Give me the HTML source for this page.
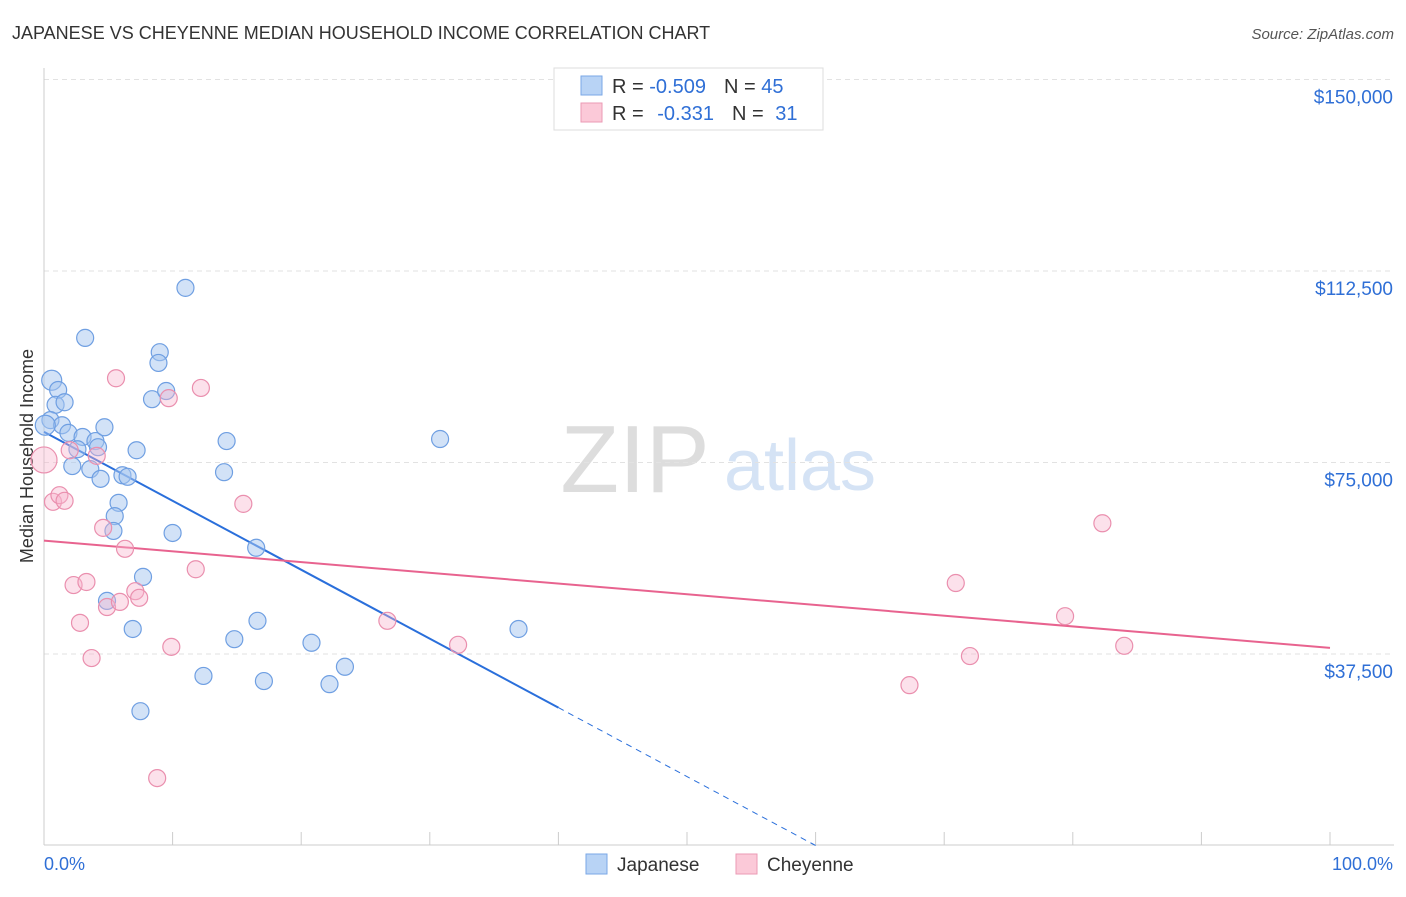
<!DOCTYPE html>
<html><head><meta charset="utf-8"><style>
body{margin:0;background:#fff;font-family:"Liberation Sans",sans-serif;}
svg text{font-family:"Liberation Sans",sans-serif;}
</style></head><body>
<svg id="chart" width="1406" height="892">
<text x="12" y="39" font-size="18" fill="#333">JAPANESE VS CHEYENNE MEDIAN HOUSEHOLD INCOME CORRELATION CHART</text>
<text x="1394" y="39" font-size="15" fill="#555" font-style="italic" text-anchor="end">Source: ZipAtlas.com</text>
<text x="0" y="0" font-size="18" fill="#333" text-anchor="middle" transform="translate(33,456) rotate(-90)">Median Household Income</text>
<text x="635" y="492" font-size="96" fill="#ddd" font-family="Liberation Serif" text-anchor="middle">ZIP</text>
<text x="800" y="490" font-size="72" fill="#d5e3f5" text-anchor="middle">atlas</text>
<g id="grid"></g><g id="axes"></g><g id="trend"></g><g id="pts"></g>
<g>
<rect x="554" y="68" width="269" height="62" fill="#fff" stroke="#ddd"/>
<rect x="581" y="76" width="21" height="19" fill="#b8d3f5" stroke="#7aa7e6"/>
<rect x="581" y="103" width="21" height="19" fill="#fbc9d8" stroke="#eb9ab4"/>
<text x="612" y="93" font-size="20" fill="#333">R = <tspan fill="#2f6fd6">-0.509</tspan><tspan dx="18">N = </tspan><tspan fill="#2f6fd6">45</tspan></text>
<text x="612" y="120" font-size="20" fill="#333">R = <tspan fill="#2f6fd6" dx="8">-0.331</tspan><tspan dx="18">N = </tspan><tspan fill="#2f6fd6" dx="6">31</tspan></text>
</g>
<g>
<rect x="586" y="854" width="21" height="20" fill="#b8d3f5" stroke="#7aa7e6"/>
<text x="617" y="871" font-size="19" fill="#333">Japanese</text>
<rect x="736" y="854" width="21" height="20" fill="#fbc9d8" stroke="#eb9ab4"/>
<text x="767" y="871" font-size="19" fill="#333">Cheyenne</text>
</g>
<text x="44" y="870" font-size="18" fill="#2f6fd6">0.0%</text>
<text x="1393" y="870" font-size="18" fill="#2f6fd6" text-anchor="end">100.0%</text>
</svg>
<script>
const yTicks=[37500,75000,112500,150000];
const yTickLabels=["$37,500","$75,000","$112,500","$150,000"];
const japX=[0.6,1.1,0.9,1.6,0.5,1.4,1.9,3.2,3.0,4.0,4.2,2.6,2.2,3.6,4.7,4.4,6.1,6.5,7.2,5.8,5.5,5.4,8.4,9.5,9.0,8.9,11.0,14.2,14.0,10.0,16.5,7.7,4.9,6.9,14.8,16.6,12.4,17.1,20.8,22.2,23.4,7.5,30.8,36.9,0.1];
const japY=[91.1,89.2,86.3,86.8,83.3,82.3,80.8,99.4,80.0,79.2,78.0,77.6,74.3,73.7,81.9,71.8,72.5,72.2,77.4,67.1,64.5,61.6,87.4,89.0,96.6,94.5,109.2,79.2,73.1,61.2,58.3,52.6,47.9,42.4,40.4,44.0,33.2,32.2,39.7,31.6,35.0,26.3,79.6,42.4,82.3];
const cheX=[0,0.7,1.2,1.6,2.0,4.1,5.6,9.7,12.2,15.5,4.6,6.3,2.3,3.3,4.9,5.9,7.1,7.4,11.8,2.8,3.7,9.9,8.8,26.7,32.2,67.3,70.9,72.0,79.4,82.3,84.0];
const cheY=[75.5,67.3,68.6,67.5,77.4,76.3,91.5,87.6,89.6,66.9,62.2,58.1,51.0,51.6,46.7,47.7,49.8,48.5,54.1,43.6,36.7,38.9,13.2,44.0,39.3,31.4,51.4,37.1,44.9,63.1,39.1];
const japTrend=[81.0,-1.35];   // value(k) at 0%, slope per %
const cheTrend=[59.7,-0.21];
const NS="http://www.w3.org/2000/svg";
const X=p=>44+p*12.86;
const Y=v=>654-(v-37500)*191.5/37500;
const YK=k=>Y(k*1000);
function mk(t,a,parent){const e=document.createElementNS(NS,t);for(const k in a)e.setAttribute(k,a[k]);document.getElementById(parent).appendChild(e);return e;}
yTicks.forEach((v,i)=>{
 const l=mk('line',{x1:44,x2:1394,y1:Y(v),y2:Y(v),stroke:'#e2e2e2','stroke-dasharray':'5,4'},'grid');
 
 
 const t=mk('text',{x:1393,y:Y(v)+24,'font-size':19,fill:'#2f6fd6','text-anchor':'end'},'grid');
 t.textContent=yTickLabels[i];
 
 
});
const ax=mk('line',{x1:44,x2:1394,y1:845,y2:845,stroke:'#ccc'},'axes');


const ay=mk('line',{x1:44,x2:44,y1:68,y2:845,stroke:'#ccc'},'axes');


for(let i=0;i<=10;i++){const t=mk('line',{x1:X(i*10),x2:X(i*10),y1:832,y2:845,stroke:'#ccc'},'axes');
 
 }
const jv=p=>japTrend[0]+japTrend[1]*p;
const pEnd=40, pZero=(0-japTrend[0])/japTrend[1];
let l1=mk('line',{x1:X(0),y1:YK(jv(0)),x2:X(pEnd),y2:YK(jv(pEnd)),stroke:'#2a6fdb','stroke-width':2},'trend');


let l2=mk('line',{x1:X(pEnd),y1:YK(jv(pEnd)),x2:X(pZero),y2:YK(0),stroke:'#2a6fdb','stroke-width':1,'stroke-dasharray':'6,5'},'trend');


let l3=mk('line',{x1:X(0),y1:YK(cheTrend[0]),x2:X(100),y2:YK(cheTrend[0]+cheTrend[1]*100),stroke:'#e8638f','stroke-width':2},'trend');


japX.forEach((p,i)=>{const c=mk('circle',{cx:X(p),cy:YK(japY[i]),r:(i==0||i==44)?10:8.5,fill:'rgba(165,198,240,0.5)',stroke:'#6f9fe2','stroke-width':1.2},'pts');
 
 });
cheX.forEach((p,i)=>{const c=mk('circle',{cx:X(p),cy:YK(cheY[i]),r:i==0?13:8.5,fill:'rgba(248,180,204,0.4)',stroke:'#ea8fae','stroke-width':1.2},'pts');
 
 });
</script>
</body></html>
